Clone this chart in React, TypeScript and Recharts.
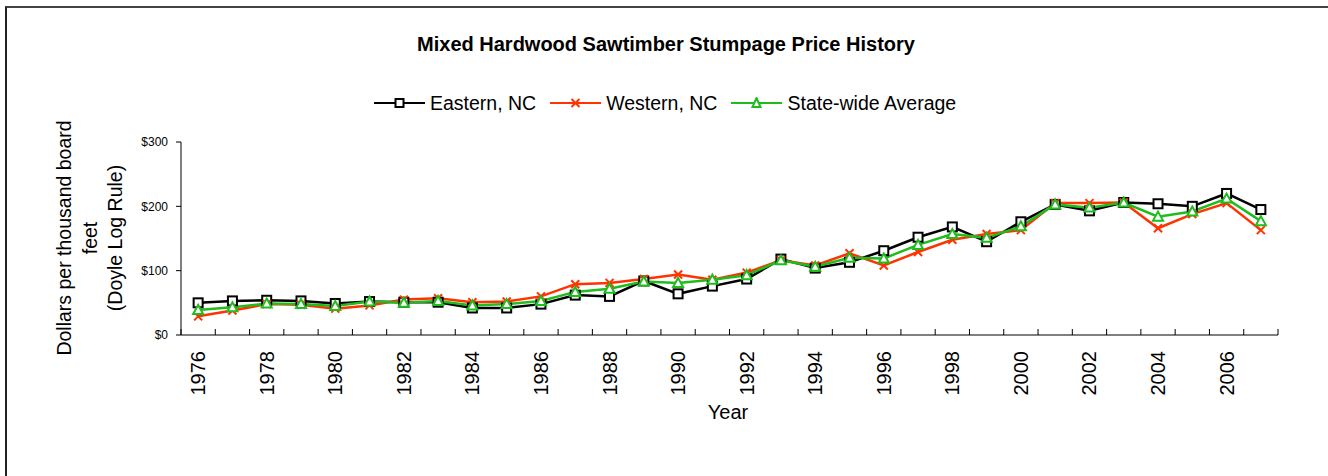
import { LineChart, Line, XAxis, YAxis } from 'recharts';

const YEARS = [
  '1976', '1977', '1978', '1979', '1980', '1981', '1982', '1983', '1984', '1985', '1986',
  '1987', '1988', '1989', '1990', '1991', '1992', '1993', '1994', '1995', '1996', '1997',
  '1998', '1999', '2000', '2001', '2002', '2003', '2004', '2005', '2006', '2007',
];
const EASTERN = [
  50, 53, 54, 53, 49, 52, 51, 51, 42, 42, 48, 62, 60, 84, 64, 76, 87, 118, 104, 113, 131,
  152, 168, 145, 176, 203, 193, 206, 204, 200, 220, 195,
];
const WESTERN = [
  29, 38, 48, 47, 41, 46, 55, 57, 51, 52, 60, 79, 81, 87, 94, 86, 97, 116, 108, 127, 108,
  129, 148, 157, 163, 205, 205, 206, 166, 188, 205, 163,
];
const STATEWIDE = [
  39, 43, 49, 48, 45, 52, 50, 53, 46, 48, 53, 67, 72, 83, 81, 86, 93, 116, 106, 120, 119,
  140, 157, 151, 169, 203, 198, 206, 184, 192, 212, 177,
];
const Y_TICKS = [0, 100, 200, 300];

const data = YEARS.map((year, i) => ({
  year,
  eastern: EASTERN[i],
  western: WESTERN[i],
  statewide: STATEWIDE[i],
}));

const FONT = '"Liberation Sans", Arial, sans-serif';
const BLACK = '#000000';
const RED = '#ff3300';
const GREEN = '#1ebd1e';

const PLOT_LEFT = 181;
const PLOT_RIGHT = 1278;
const STEP = (PLOT_RIGHT - PLOT_LEFT) / YEARS.length;

const SquareDot = ({ cx, cy }: any) => (
  <rect x={cx - 4.5} y={cy - 4.5} width={9} height={9} fill="#fff" stroke={BLACK} strokeWidth={2} />
);

const CrossDot = ({ cx, cy }: any) => (
  <g stroke={RED} strokeWidth={2}>
    <line x1={cx - 4} y1={cy - 4} x2={cx + 4} y2={cy + 4} />
    <line x1={cx - 4} y1={cy + 4} x2={cx + 4} y2={cy - 4} />
  </g>
);

const TriangleDot = ({ cx, cy }: any) => (
  <polygon
    points={`${cx},${cy - 5} ${cx + 5},${cy + 4} ${cx - 5},${cy + 4}`}
    fill="#fff"
    stroke={GREEN}
    strokeWidth={2}
  />
);

const XTick = ({ x, y, payload, index }: any) => {
  const half = STEP / 2;
  const last = index === YEARS.length - 1;
  return (
    <g>
      <line x1={x - half} y1={y} x2={x - half} y2={y - 6} stroke="#000" />
      {last && <line x1={x + half} y1={y} x2={x + half} y2={y - 6} stroke="#000" />}
      {index % 2 === 0 && (
        <text
          x={x}
          y={y + 16}
          transform={`rotate(-90 ${x} ${y + 16})`}
          textAnchor="end"
          dominantBaseline="central"
          fontSize={20}
          fontFamily={FONT}
          fill="#000"
        >
          {payload.value}
        </text>
      )}
    </g>
  );
};

const LegendItem = ({ color, label, icon }: { color: string; label: string; icon: string }) => (
  <div style={{ display: 'flex', alignItems: 'center', marginRight: 14 }}>
    <svg width={51} height={12} style={{ marginRight: 5 }}>
      <line x1={0} y1={6} x2={51} y2={6} stroke={color} strokeWidth={2} />
      {icon === 'square' && <rect x={21.5} y={2} width={8} height={8} fill="#fff" stroke={color} strokeWidth={2} />}
      {icon === 'cross' && (
        <g stroke={color} strokeWidth={2}>
          <line x1={21.5} y1={2} x2={29.5} y2={10} />
          <line x1={21.5} y1={10} x2={29.5} y2={2} />
        </g>
      )}
      {icon === 'triangle' && <polygon points="25.5,1 29.5,10 21.5,10" fill="#fff" stroke={color} strokeWidth={2} />}
    </svg>
    <span>{label}</span>
  </div>
);

export default function App() {
  return (
    <div style={{ position: 'absolute', left: 0, top: 0, width: 1328, height: 476, background: '#fff', overflow: 'hidden', fontFamily: FONT }}>
      <div
        style={{
          position: 'absolute',
          left: 5,
          top: 6,
          width: 1400,
          height: 600,
          borderTop: '2px solid #444',
          borderLeft: '2px solid #222',
        }}
      />
      <div
        style={{
          position: 'absolute',
          left: 0,
          width: 1332,
          top: 32,
          textAlign: 'center',
          fontSize: 20,
          lineHeight: '24px',
          fontWeight: 'bold',
        }}
      >
        Mixed Hardwood Sawtimber Stumpage Price History
      </div>
      <div
        style={{
          position: 'absolute',
          left: 374,
          top: 91,
          display: 'flex',
          fontSize: 19.5,
          lineHeight: '24px',
        }}
      >
        <LegendItem color={BLACK} label="Eastern, NC" icon="square" />
        <LegendItem color={RED} label="Western, NC" icon="cross" />
        <LegendItem color={GREEN} label="State-wide Average" icon="triangle" />
      </div>
      <svg style={{ position: 'absolute', left: 0, top: 0 }} width={1328} height={476}>
        <g fontFamily={FONT} fontSize={19.5} fill="#000" textAnchor="middle">
          <text transform="translate(64 238) rotate(-90)" dominantBaseline="central">
            Dollars per thousand board
          </text>
          <text transform="translate(89.5 238) rotate(-90)" dominantBaseline="central">
            feet
          </text>
          <text transform="translate(115 238) rotate(-90)" dominantBaseline="central">
            (Doyle Log Rule)
          </text>
          <text x={728} y={412} dominantBaseline="central" fontSize={20}>
            Year
          </text>
        </g>
      </svg>
      <div style={{ position: 'absolute', left: 0, top: 0 }}>
        <LineChart width={1328} height={476} data={data} margin={{ top: 142, right: 1328 - PLOT_RIGHT, bottom: 0, left: 0 }}>
          <XAxis
            dataKey="year"
            height={141}
            interval={0}
            padding={{ left: STEP / 2, right: STEP / 2 }}
            tickLine={false}
            tickSize={0}
            tickMargin={0}
            tick={<XTick />}
            axisLine={{ stroke: '#000', strokeWidth: 1 }}
          />
          <YAxis
            width={PLOT_LEFT}
            domain={[0, 300]}
            ticks={Y_TICKS}
            tickFormatter={(v: number) => `$${v}`}
            tickSize={5}
            tickMargin={8}
            tick={{ fontSize: 12, fontFamily: FONT, fill: '#000' }}
            tickLine={{ stroke: '#000' }}
            axisLine={{ stroke: '#000', strokeWidth: 1 }}
          />
          <Line
            dataKey="eastern"
            stroke={BLACK}
            strokeWidth={2.5}
            dot={<SquareDot />}
            activeDot={false}
            isAnimationActive={false}
          />
          <Line
            dataKey="western"
            stroke={RED}
            strokeWidth={2.5}
            dot={<CrossDot />}
            activeDot={false}
            isAnimationActive={false}
          />
          <Line
            dataKey="statewide"
            stroke={GREEN}
            strokeWidth={2.5}
            dot={<TriangleDot />}
            activeDot={false}
            isAnimationActive={false}
          />
        </LineChart>
      </div>
    </div>
  );
}
